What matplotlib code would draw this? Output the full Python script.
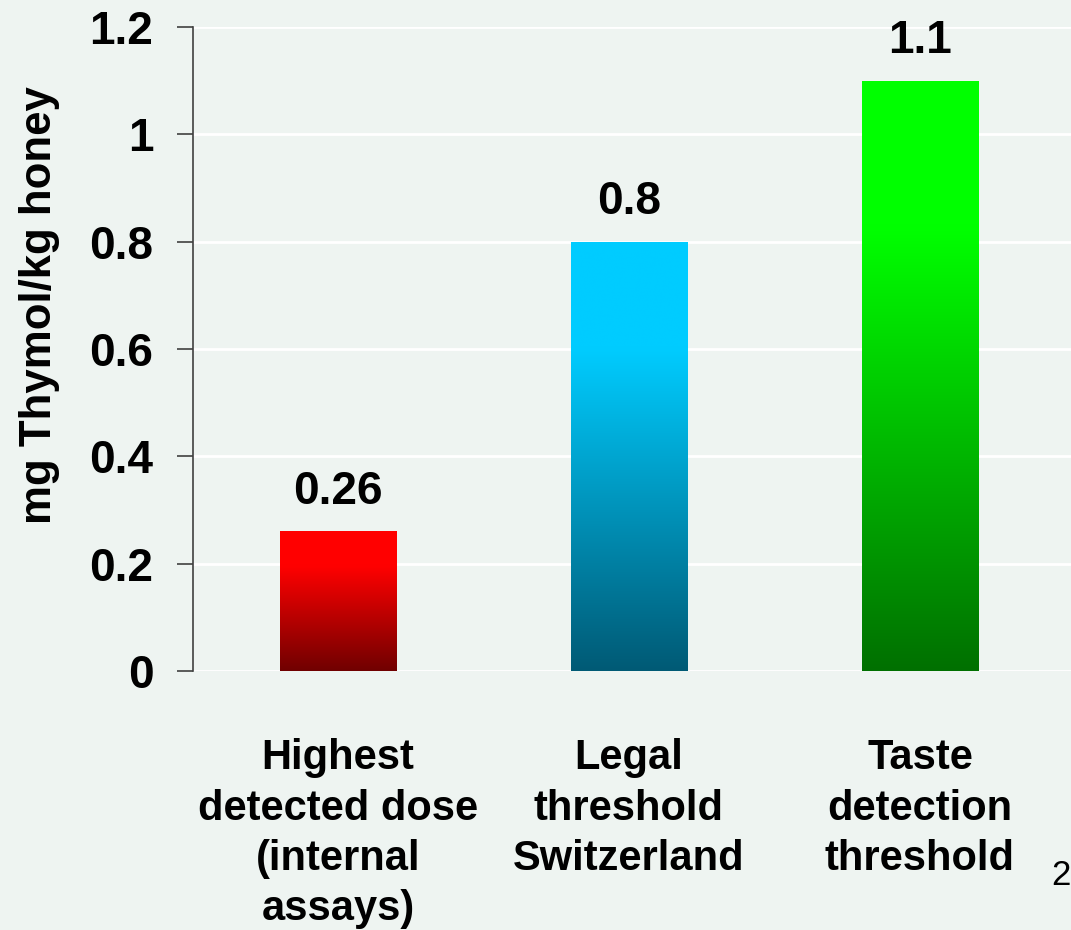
import numpy as np
import matplotlib
matplotlib.use("Agg")
import matplotlib.pyplot as plt
from matplotlib.colors import LinearSegmentedColormap

# Thymol residue levels in honey
categories = [
    "Highest\ndetected dose\n(internal\nassays)",
    "Legal\nthreshold\nSwitzerland",
    "Taste\ndetection\nthreshold",
]
values = [0.26, 0.8, 1.1]
value_labels = ["0.26", "0.8", "1.1"]
y_ticks = [0, 0.2, 0.4, 0.6, 0.8, 1.0, 1.2]
y_tick_labels = ["0", "0.2", "0.4", "0.6", "0.8", "1", "1.2"]

# gradient colours per bar: (bottom, top)
bar_bottom_colors = ["#700000", "#005A75", "#007000"]
bar_top_colors = ["#FF0000", "#00CCFF", "#00FF00"]

BG = "#EEF4F1"
plt.rcParams["font.family"] = ["Liberation Sans", "DejaVu Sans"]
plt.rcParams["font.weight"] = "bold"

fig = plt.figure(figsize=(10.71, 9.30), dpi=100, facecolor=BG)
ax = fig.add_axes([193 / 1071, 1 - 671 / 930, 1 - 193 / 1071, (671 - 27) / 930])
ax.set_facecolor(BG)

x = np.arange(len(categories))
width = 0.40
bars = ax.bar(x, values, width=width, color="none", edgecolor="none", zorder=3)

grad = np.linspace(0, 1, 256).reshape(-1, 1)
for rect, c0, c1 in zip(bars, bar_bottom_colors, bar_top_colors):
    cmap = LinearSegmentedColormap.from_list(
        "bar", [(0.0, c0), (0.75, c1), (1.0, c1)]
    )
    x0 = rect.get_x()
    x1 = x0 + rect.get_width()
    h = rect.get_height()
    im = ax.imshow(grad, cmap=cmap, origin="lower", aspect="auto",
                   extent=[x0, x1, 0, h], zorder=3, interpolation="bicubic")
    im.set_clip_path(rect)

for xi, v, lab in zip(x, values, value_labels):
    ax.annotate(lab, (xi, v), xytext=(0, 20), textcoords="offset points",
                ha="center", va="baseline", fontsize=33, fontweight="bold")

ax.set_xlim(-0.498, 2.519)
ax.set_ylim(0, 1.2)
ax.set_yticks(y_ticks)
ax.set_yticklabels(y_tick_labels, fontsize=33, fontweight="bold")
ax.set_xticks(x)
ax.set_xticklabels(categories, fontsize=30, fontweight="bold", linespacing=1.33)

ax.tick_params(axis="y", length=11.5, width=1.2, color="#404040", pad=17)
ax.tick_params(axis="x", length=0, pad=48.5)

for side in ["top", "right", "bottom"]:
    ax.spines[side].set_visible(False)
ax.spines["left"].set_color("#404040")
ax.spines["left"].set_linewidth(1.2)

ax.set_axisbelow(True)
ax.yaxis.grid(True, color="white", linewidth=2)
ax.xaxis.grid(False)

fig.text(40 / 1071, 1 - 305 / 930, "mg Thymol/kg honey", fontsize=31.5,
         fontweight="bold", rotation=90, ha="center", va="center")

fig.text(1051 / 1071, 1 - 885 / 930, "2", fontsize=25, fontweight="normal",
         ha="left", va="baseline")

fig.savefig("out.png", dpi=100, facecolor=BG)
